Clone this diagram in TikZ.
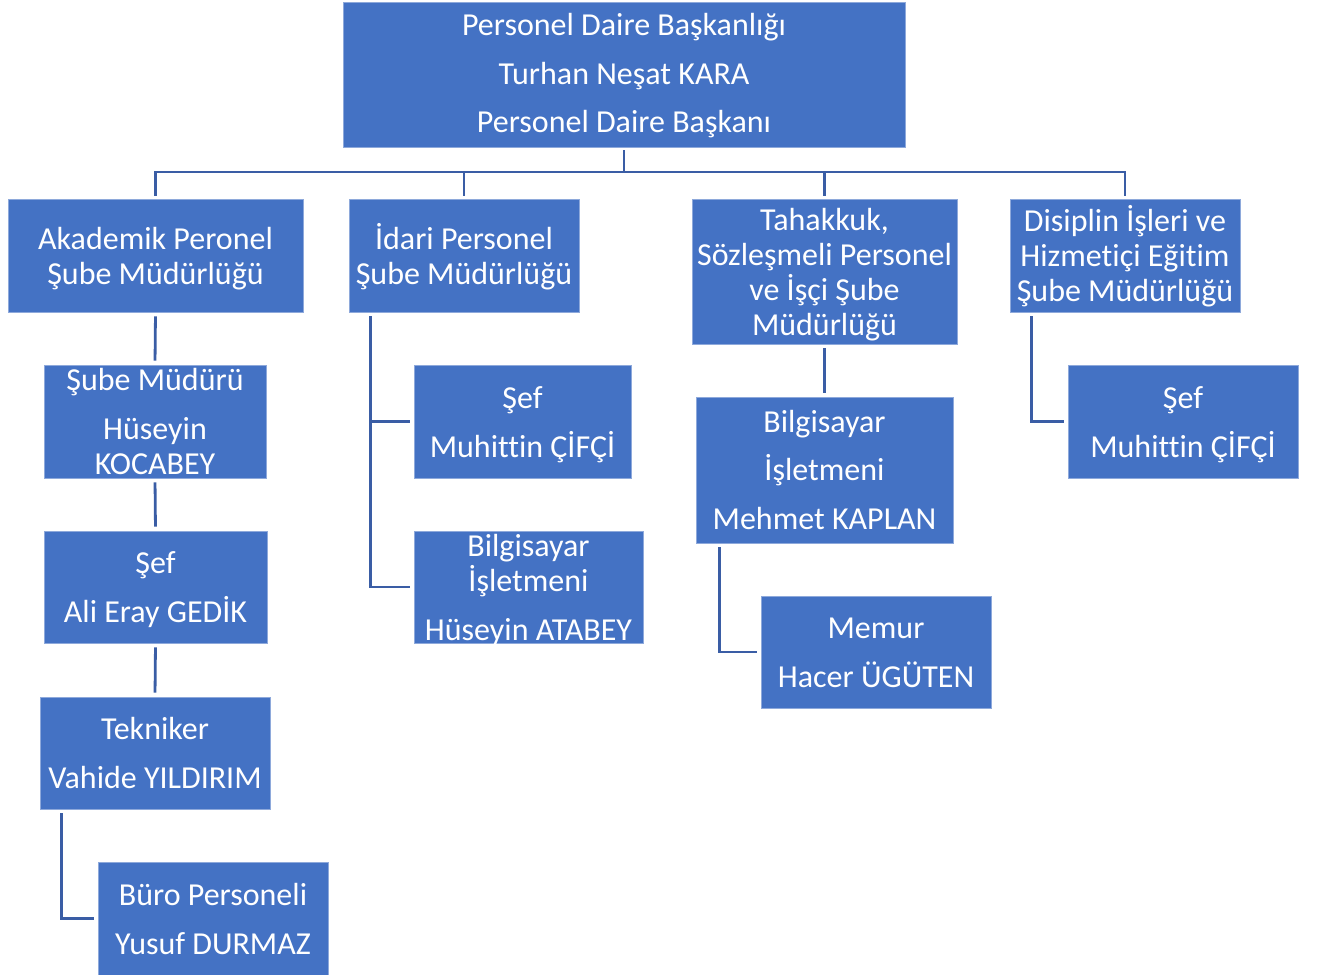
\documentclass[tikz,border=0pt]{standalone}
\usepackage{fontspec}
\setmainfont{Carlito}[Ligatures=NoCommon]
\definecolor{boxblue}{HTML}{4472C4}
\definecolor{boxedge}{HTML}{8EA9DB}
\definecolor{linkblue}{HTML}{3A5DA5}
\newcommand\sr{\rule[-10pt]{0pt}{42pt}}
\newcommand\srb{\rule[-14pt]{0pt}{46pt}}
\newcommand\boxfont{\fontsize{32}{35}\selectfont\lineskiplimit=-100pt\relax}
\lineskiplimit=-100pt
\begin{document}
\begin{tikzpicture}[x=1pt,y=-1pt,
  box/.style={rectangle, fill=boxblue, draw=boxedge, line width=0.8pt, text=white,
    align=center, inner xsep=0pt, inner ysep=-20pt, font=\boxfont},
  conn/.style={draw=linkblue, line width=2.8pt}]
\useasboundingbox (0,0) rectangle (1318,975);
% boxes
\node[box, minimum width=562pt, minimum height=145pt] (top) at (624,74.5)
  {\sr Personel Daire Başkanlığı\\[14pt]\sr Turhan Neşat KARA\\[13pt]\srb Personel Daire Başkanı};
\node[box, minimum width=295pt, minimum height=113pt] (akad) at (155.5,255.5)
  {\sr Akademik Peronel\\\sr Şube Müdürlüğü};
\node[box, minimum width=230pt, minimum height=113pt] (idari) at (464,255.5)
  {\sr İdari Personel\\\sr Şube Müdürlüğü};
\node[box, minimum width=265pt, minimum height=145pt] (tah) at (824.5,271.5)
  {\sr Tahakkuk,\\\sr Sözleşmeli Personel\\\sr ve İşçi Şube\\\sr Müdürlüğü};
\node[box, minimum width=230pt, minimum height=113pt] (disc) at (1125,255.5)
  {\sr Disiplin İşleri ve\\\sr Hizmetiçi Eğitim\\\sr Şube Müdürlüğü};
\node[box, minimum width=222pt, minimum height=113pt] (sube) at (155,421.5)
  {\sr Şube Müdürü\\[14pt]\sr Hüseyin\\\sr KOCABEY};
\node[box, minimum width=223pt, minimum height=112pt] (sefali) at (155.5,587)
  {\sr Şef\\[14pt]\sr Ali Eray GEDİK};
\node[box, minimum width=230pt, minimum height=112pt] (tek) at (155,753)
  {\sr Tekniker\\[14pt]\sr Vahide YILDIRIM};
\node[box, minimum width=230pt, minimum height=113pt] (buro) at (213,918.5)
  {\sr Büro Personeli\\[14pt]\sr Yusuf DURMAZ};
\node[box, minimum width=217pt, minimum height=113pt] (idsef) at (522.5,421.5)
  {\sr Şef\\[14pt]\sr Muhittin ÇİFÇİ};
\node[box, minimum width=229pt, minimum height=112pt] (idbil) at (528.5,587)
  {\sr Bilgisayar\\\sr İşletmeni\\[14pt]\sr Hüseyin ATABEY};
\node[box, minimum width=257pt, minimum height=146pt] (mehmet) at (824.5,470)
  {\sr Bilgisayar\\[13pt]\sr İşletmeni\\[14pt]\sr Mehmet KAPLAN};
\node[box, minimum width=230pt, minimum height=112pt] (memur) at (876,652)
  {\sr Memur\\[14pt]\sr Hacer ÜGÜTEN};
\node[box, minimum width=230pt, minimum height=113pt] (dsef) at (1183,421.5)
  {\sr Şef\\[14pt]\sr Muhittin ÇİFÇİ};
% connectors
\coordinate (bus) at (0,172);
\draw[conn, shorten <=3pt] (top.south) -- (top.south |- bus);
\draw[conn, shorten <=3pt, shorten >=3pt] (akad.north) -- (akad.north |- bus) -- (disc.north |- bus) -- (disc.north);
\draw[conn, shorten <=3pt] (idari.north) -- (idari.north |- bus);
\draw[conn, shorten <=3pt] (tah.north) -- (tah.north |- bus);
\draw[conn, shorten <=4pt, shorten >=4pt] (akad.south) -- (sube.north);
\draw[conn, shorten <=4pt, shorten >=4pt] (sube.south) -- (sefali.north);
\draw[conn, shorten <=4pt, shorten >=4pt] (sefali.south) -- (tek.north);
\draw[conn, shorten <=4pt, shorten >=4pt] (tah.south) -- (mehmet.north);
\draw[conn, shorten <=4pt, shorten >=4pt] ([xshift=22pt]idari.south west) |- (idbil.west);
\draw[conn, shorten >=4pt] ([xshift=22pt]idari.south west |- idsef.west) -- (idsef.west);
\draw[conn, shorten <=4pt, shorten >=4pt] ([xshift=24pt]mehmet.south west) |- (memur.west);
\draw[conn, shorten <=4pt, shorten >=4pt] ([xshift=22pt]disc.south west) |- (dsef.west);
\draw[conn, shorten <=4pt, shorten >=4pt] ([xshift=22pt]tek.south west) |- (buro.west);
\end{tikzpicture}
\end{document}
